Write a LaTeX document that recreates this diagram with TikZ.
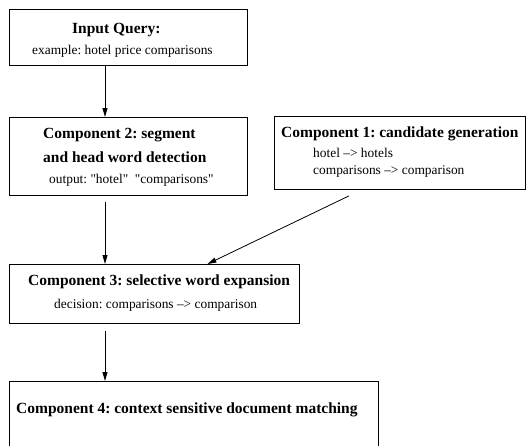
\documentclass[tikz,border=0pt]{standalone}
\usepackage{fontspec}
% plain family without TeX ligature mapping, so " stays a straight quote
\newfontfamily\boxfont{Liberation Serif}
\usetikzlibrary{arrows.meta}
\frenchspacing
\begin{document}
\begin{tikzpicture}[x=1pt,y=-1pt,
  box/.style={draw, line width=0.9pt, rectangle, anchor=north west, inner sep=0pt},
  head/.style={anchor=base west, inner sep=0pt, font=\boxfont\bfseries\fontsize{15.5}{18}\selectfont},
  body/.style={anchor=base west, inner sep=0pt, font=\boxfont\fontsize{13.4}{16}\selectfont},
  arr/.style={line width=0.8pt, -{Triangle[length=9pt,width=5pt]}}]
\useasboundingbox (0,0) rectangle (528,445);

% boxes
\node[box, minimum width=238pt, minimum height=56pt] (query) at (9,9) {};
\node[box, minimum width=238pt, minimum height=78pt] (segm) at (9,117) {};
\node[box, minimum width=251pt, minimum height=73pt] (cand) at (274,116) {};
\node[box, minimum width=290pt, minimum height=59pt] (expa) at (9,264) {};
\node[box, minimum width=369pt, minimum height=70pt] (match) at (9,381) {};

% texts
\node[head] (tq) at (72,33) {Input Query:};
\node[body] (tq2) at (32,54.5) {example: hotel price comparisons};

\node[head] (ts1) at (43,138) {Component 2: segment};
\node[head] (ts2) at (43,162) {and head word detection};
\node[body] (ts3) at (49,183) {output: "hotel"\ \ "comparisons"};

\node[head] (tc1) at (281,137) {Component 1: candidate generation};
\node[body] (tc2) at (313,157) {hotel \textendash> hotels};
\node[body] (tc3) at (313,174) {comparisons \textendash> comparison};

\node[head] (te1) at (28,285.5) {Component 3: selective word expansion};
\node[body] (te2) at (54,308) {decision: comparisons \textendash> comparison};

\node[head] (tm) at (16,413) {Component 4: context sensitive document matching};

% connectors
\coordinate (spine) at (105,0);
\draw[arr] (query.south -| spine) -- (segm.north -| spine);
\draw[arr] ([yshift=-6pt]segm.south -| spine) -- (expa.north -| spine);
\draw[arr] ([xshift=-51pt,yshift=-6pt]cand.south) -- ([xshift=53pt]expa.north);
\draw[arr] ([yshift=-7pt]expa.south -| spine) -- (match.north -| spine);
\end{tikzpicture}
\end{document}
